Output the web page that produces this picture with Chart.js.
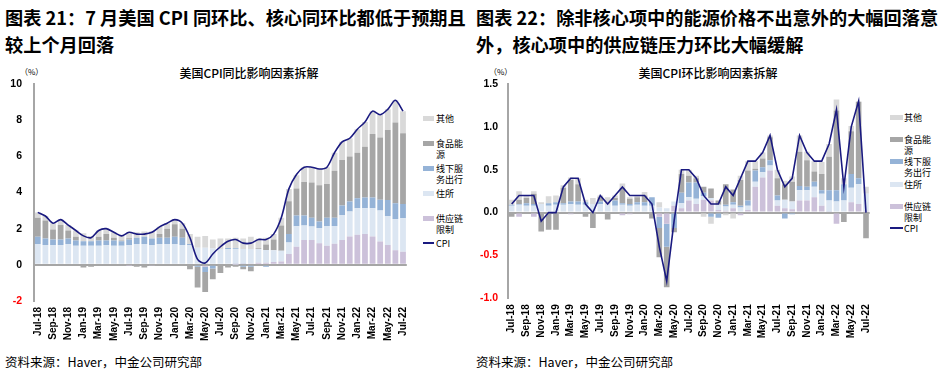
<!DOCTYPE html>
<html><head><meta charset="utf-8">
<script src="https://cdn.jsdelivr.net/npm/chart.js@4.4.1/dist/chart.umd.min.js"></script>
<style>
body{margin:0;background:#fff;width:943px;height:381px;position:relative;overflow:hidden;font-family:"Noto Sans CJK SC","Noto Sans",sans-serif;color:#000}
.abs{position:absolute;white-space:nowrap}
.title{font-size:18.2px;font-weight:bold;line-height:27px}
.sub{font-size:12px;font-weight:500;transform:translateX(-50%)}
.src{font-size:12.5px}
.pct{font-size:8px}
.lg{font-size:9px;line-height:11px}
.sw{position:absolute;height:5px}
canvas{position:absolute}
</style></head>
<body>
<div class="abs title" style="left:5px;top:4px">图表 21：7 月美国 CPI 同环比、核心同环比都低于预期且<br>较上个月回落</div>
<div class="abs title" style="left:476px;top:4px">图表 22：除非核心项中的能源价格不出意外的大幅回落意<br>外，核心项中的供应链压力环比大幅缓解</div>
<div class="abs sub" style="left:249px;top:64px">美国CPI同比影响因素拆解</div>
<div class="abs sub" style="left:708px;top:64px">美国CPI环比影响因素拆解</div>
<div class="abs pct" style="left:20px;top:66px">（%）</div>
<div class="abs pct" style="left:489px;top:66px">（%）</div>
<div class="abs src" style="left:5px;top:352px">资料来源：Haver，中金公司研究部</div>
<div class="abs src" style="left:476px;top:352px">资料来源：Haver，中金公司研究部</div>
<div id="lg1"></div><div id="lg2"></div>
<canvas id="c1" width="421" height="290" style="left:0;top:60px"></canvas>
<canvas id="c2" width="414" height="290" style="left:470px;top:60px"></canvas>
<script>
const categories = ['Jul-18','Aug-18','Sep-18','Oct-18','Nov-18','Dec-18','Jan-19','Feb-19','Mar-19','Apr-19','May-19','Jun-19','Jul-19','Aug-19','Sep-19','Oct-19','Nov-19','Dec-19','Jan-20','Feb-20','Mar-20','Apr-20','May-20','Jun-20','Jul-20','Aug-20','Sep-20','Oct-20','Nov-20','Dec-20','Jan-21','Feb-21','Mar-21','Apr-21','May-21','Jun-21','Jul-21','Aug-21','Sep-21','Oct-21','Nov-21','Dec-21','Jan-22','Feb-22','Mar-22','Apr-22','May-22','Jun-22','Jul-22'];
const seriesNames = ['供应链限制','住所','线下服务出行','食品能源','其他','CPI'];

// YoY (%)
const yoySupply = [0,0,0,0,0,0,0,0,0,0,0,0,-0.02,-0.05,-0.05,-0.03,0,0,0,0,-0.05,-0.05,-0.1,-0.05,-0.05,0,0.02,0.05,0.08,0.12,0.12,0.15,0.18,0.6,1.0,1.38,1.38,1.2,1.05,1.16,1.38,1.57,1.66,1.71,1.57,1.29,1.1,0.8,0.72];
const yoyShelter = [1.15,1.1,1.1,1.1,1.15,1.05,1.05,1.05,1.05,1.1,1.05,1.05,1.1,1.15,1.15,1.1,1.15,1.15,1.15,1.1,1.1,0.95,0.95,0.9,0.88,0.88,0.85,0.82,0.8,0.75,0.7,0.65,0.6,0.63,1.14,0.8,0.74,0.83,1.1,0.99,1.38,1.38,1.47,1.42,1.56,1.71,1.6,1.73,1.86];
const yoyServices = [0.4,0.35,0.3,0.3,0.3,0.3,0.25,0.25,0.3,0.25,0.3,0.25,0.3,0.35,0.4,0.35,0.35,0.35,0.4,0.4,0.05,-0.05,-0.3,-0.15,0.0,0.05,0.05,-0.1,-0.1,-0.05,-0.1,0.0,0.0,0.48,0.59,0.55,0.48,0.37,0.46,0.45,0.52,0.55,0.55,0.6,0.6,0.6,0.88,0.88,0.79];
const yoyFoodEnergy = [1.05,1.0,0.55,0.8,0.45,0.2,-0.15,-0.1,0.2,0.35,0.15,0.05,0.07,-0.05,-0.1,-0.02,0.2,0.5,0.7,0.5,-0.2,-1.15,-1.1,-0.6,-0.4,-0.15,-0.1,-0.15,-0.25,0.05,0.3,0.6,1.4,1.8,1.49,1.85,1.95,2.0,1.86,2.6,2.52,2.49,2.52,2.8,3.5,3.44,3.87,4.46,3.9];
const yoyOther = [0.3,0.25,0.35,0.3,0.3,0.35,0.45,0.3,0.35,0.3,0.3,0.25,0.35,0.3,0.3,0.4,0.4,0.3,0.25,0.3,0.55,0.6,0.65,0.5,0.57,0.52,0.58,0.58,0.67,0.53,0.38,0.3,0.42,0.69,0.74,0.82,0.85,0.9,0.93,1.0,1.0,1.01,1.3,1.37,1.27,1.26,1.15,1.23,1.23];
const yoyCPI = [2.9,2.7,2.3,2.5,2.2,1.9,1.6,1.5,1.9,2.0,1.8,1.6,1.8,1.7,1.7,1.8,2.1,2.3,2.5,2.3,1.5,0.3,0.1,0.6,1.0,1.3,1.4,1.2,1.2,1.4,1.4,1.7,2.6,4.2,5.0,5.4,5.4,5.3,5.4,6.2,6.8,7.0,7.5,7.9,8.5,8.3,8.6,9.1,8.5];

// MoM (%)
const momSupply = [0,-0.05,0,-0.05,0,0,0,0,-0.02,0,0,0,0,0,0,-0.03,-0.02,0,0,0,-0.05,-0.13,0.08,0.05,0.14,0.1,0.15,0.14,0.03,0.02,0.05,-0.03,0.03,0.3,0.41,0.49,0.08,0.05,0.04,0.14,0.14,0.18,0.08,0.01,-0.13,0,0.12,0.1,0.02];
const momShelter = [0.08,0.09,0.08,0.08,0.1,0.08,0.09,0.09,0.1,0.09,0.09,0.1,0.1,0.09,0.08,0.09,0.08,0.09,0.08,0.08,0.06,0.05,0.05,0.06,0.04,0.06,0.04,0.03,0.06,0.05,0.04,0.06,0.05,0.06,0.06,0.06,0.06,0.1,0.09,0.12,0.12,0.12,0.14,0.13,0.13,0.14,0.17,0.23,0.2];
const momServices = [0.01,0.01,0.03,0.02,0,0.03,0.03,0.02,0.03,0.04,0.03,0,0.03,0,0.06,0.02,0.02,0.03,0.04,0.1,-0.13,-0.27,-0.18,0.12,0.17,0.19,0.04,-0.05,-0.06,0.02,0.03,0.02,0.06,0.13,0.06,0.06,0.06,-0.07,-0.02,0.05,0.04,0.06,0.04,0.12,0.13,0.19,0.16,0.07,0];
const momFoodEnergy = [-0.05,0.05,0.06,0.12,-0.22,-0.2,-0.2,0.18,0.25,0.2,-0.05,-0.18,0.05,-0.08,0.03,0.18,0.06,0.06,0.08,-0.07,-0.34,-0.47,-0.05,0.22,0.08,0.05,0.07,0.11,0.05,0.24,0.15,0.3,0.35,0.02,0.1,0.27,0.2,0.18,0.23,0.4,0.31,0.12,0.19,0.39,0.93,-0.11,0.5,0.89,-0.3];
const momOther = [0.06,0.1,0.03,0.03,0.02,0.08,0.08,0.03,0.03,0.07,0.03,0.07,0.02,0.09,0.03,0.05,0.02,0.02,0.04,0,0.06,0,0,0.05,0.07,0.03,-0.05,-0.08,0,-0.03,-0.07,0.05,0.11,0.09,0.07,0.02,0.1,0.04,0.06,0.19,0.1,0.12,0.14,0.15,0.13,0.07,0.06,0.01,0.08];
const momCPI = [0.1,0.2,0.2,0.2,-0.1,0.0,0.0,0.3,0.4,0.4,0.1,0.0,0.2,0.1,0.2,0.3,0.2,0.2,0.2,0.1,-0.4,-0.8,-0.1,0.5,0.5,0.4,0.2,0.1,0.1,0.3,0.2,0.4,0.6,0.6,0.7,0.9,0.5,0.3,0.4,0.9,0.7,0.6,0.6,0.8,1.2,0.3,1.0,1.3,0.0];

const colors = ['#ccc1da','#dce6f2','#95b3d7','#a6a6a6','#d9d9d9','#1a1a80'];
const legendRows = [['其他'],['食品能','源'],['线下服','务出行'],['住所'],['供应链','限制'],['CPI']];

function buildLegend(id, swX, txtX, ys, swW){
  const el = document.getElementById(id);
  let html='';
  legendRows.forEach((rows,k)=>{
    const y = ys[k];
    if(k<5){
      html += `<div class="sw" style="left:${swX}px;top:${y-2.5}px;width:${swW}px;background:${colors[[4,3,2,1,0][k]]}"></div>`;
    } else {
      html += `<div class="sw" style="left:${swX}px;top:${y-1}px;width:${swW}px;height:2px;background:${colors[5]}"></div>`;
    }
    html += `<div class="abs lg" style="left:${txtX}px;top:${y-5.5}px">${rows.join('<br>')}</div>`;
  });
  el.innerHTML = html;
}
buildLegend('lg1', 423, 436, [118,143,168,193,218,243], 11);
buildLegend('lg2', 890, 904, [117,139,161,184,206,228], 13);

function makeChart(canvasId, d, yMin, yMax, step, yWidth, xHeight, tension, dec){
  const tickFont = {family:'"Liberation Sans", Arial, sans-serif', size:10.5, weight:'bold'};
  const bar = (i)=>({type:'bar', label:seriesNames[i], data:d[i], backgroundColor:colors[i], stack:'s', order:1, barPercentage:0.76, categoryPercentage:1.0});
  return new Chart(document.getElementById(canvasId), {
    type:'bar',
    data:{labels:categories, datasets:[
      {type:'line', label:seriesNames[5], data:d[5], borderColor:colors[5], borderWidth:1.6, pointRadius:0, tension:tension, stack:'line', order:0, fill:false},
      bar(0),bar(1),bar(2),bar(3),bar(4)
    ]},
    options:{
      responsive:false, animation:false, devicePixelRatio:1,
      layout:{padding:{top:24,left:0,right:0,bottom:0}},
      plugins:{legend:{display:false}, tooltip:{enabled:false}},
      scales:{
        x:{stacked:true, offset:true, grid:{display:false, drawTicks:false}, border:{display:false},
           afterFit:(s)=>{s.height=xHeight;},
           ticks:{autoSkip:false, maxRotation:90, minRotation:90, padding:6, color:'#000',
             font:{family:'"Liberation Sans", Arial, sans-serif', size:10, weight:'bold'},
             callback:(v,i)=> i%2===0 ? categories[i] : ''}},
        y:{stacked:true, min:yMin, max:yMax,
           afterFit:(s)=>{s.width=yWidth;},
           border:{display:true, color:'#a6a6a6', width:2},
           grid:{drawTicks:false, color:(c)=> (c.tick && c.tick.value===0) ? '#a6a6a6' : 'rgba(0,0,0,0)', lineWidth:2},
           ticks:{stepSize:step, padding:dec?10:12, font:tickFont,
             color:(c)=> c.tick && c.tick.value<0 ? '#ff0000' : '#000',
             callback:(v)=> dec ? Number(v).toFixed(1) : String(v)}}
      }
    }
  });
}
makeChart('c1', [yoySupply,yoyShelter,yoyServices,yoyFoodEnergy,yoyOther,yoyCPI], -2, 10, 2, 34, 49, 0.3, false);
makeChart('c2', [momSupply,momShelter,momServices,momFoodEnergy,momOther,momCPI], -1, 1.5, 0.5, 38, 51.7, 0, true);
</script>
</body></html>
